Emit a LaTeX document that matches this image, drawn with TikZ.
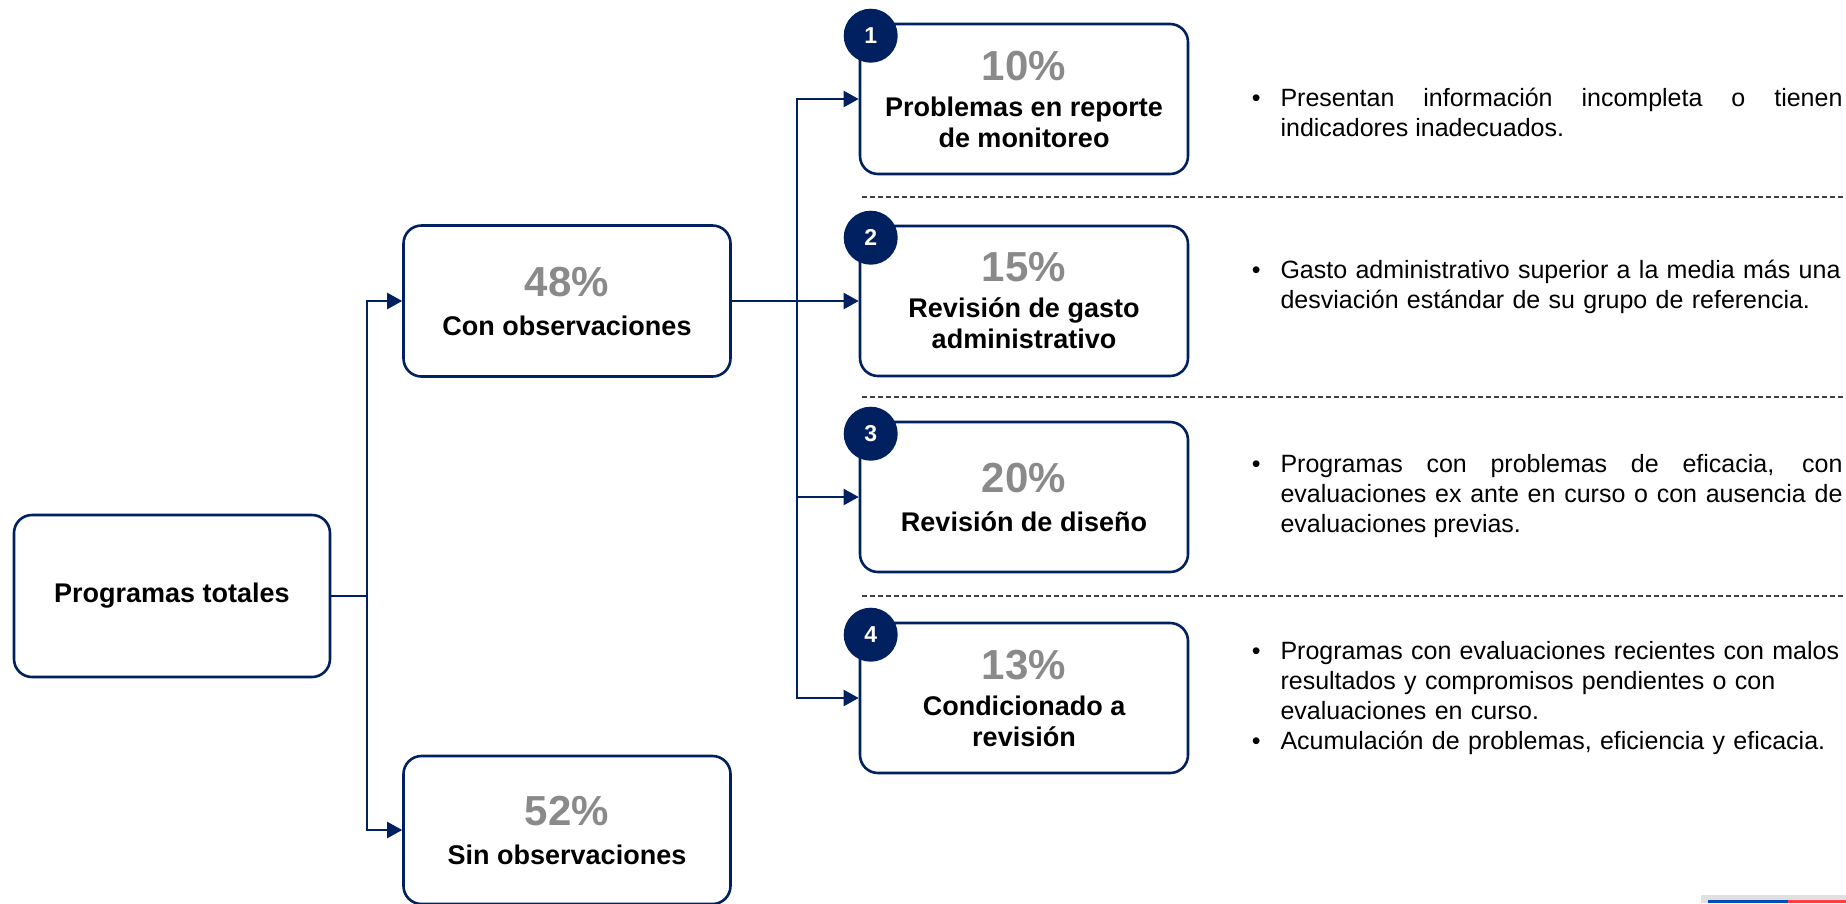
\documentclass[tikz,border=0pt]{standalone}
\usepackage{fontspec}
\setmainfont{Liberation Sans}
\usepackage{xcolor}
\usetikzlibrary{arrows.meta}
\definecolor{navy}{HTML}{002060}
\definecolor{pctgray}{HTML}{8A8A8A}
\newcommand{\pct}[1]{{\fontsize{42}{46}\selectfont\bfseries\color{pctgray}#1}}
\newcommand{\bul}{\leavevmode\llap{\textbullet\hspace{20pt}}}

\begin{document}
\begin{tikzpicture}[
  x=1pt, y=-1pt,
  box/.style={draw=navy, line width=2.6pt, rounded corners=18pt, fill=white,
    minimum width=328pt, minimum height=150pt, align=center,
    font=\fontsize{27}{31}\selectfont\bfseries},
  badge/.style={circle, fill=navy, minimum size=54pt, inner sep=0pt,
    text=white, font=\fontsize{23}{23}\selectfont\bfseries},
  link/.style={navy, line width=2.2pt},
  linkarr/.style={link, -{Triangle[length=15pt,width=16pt]}},
  note/.style={anchor=west, text width=562pt, font=\fontsize{25}{30}\selectfont},
  sep/.style={black!75, line width=1.2pt, dash pattern=on 5pt off 3pt},
]
\useasboundingbox (0,0) rectangle (1846,903);

% left side
\node[box, minimum width=316pt, minimum height=162pt] (tot) at (172,596) {Programas totales};
\node[box, minimum width=327pt, minimum height=151pt] (con) at (567,301) {\pct{48\%}\\[8pt] Con observaciones};
\node[box, minimum width=327pt, minimum height=148pt] (sin) at (567,830) {\pct{52\%}\\[8pt] Sin observaciones};

% right side
\node[box] (b1) at (1024,99) {\pct{10\%}\\[5pt] Problemas en reporte\\ de monitoreo};
\node[box] (b2) at (1024,301) {\pct{15\%}\\[5pt] Revisión de gasto\\ administrativo};
\node[box] (b3) at (1024,497) {\pct{20\%}\\[8pt] Revisión de diseño};
\node[box] (b4) at (1024,698) {\pct{13\%}\\[5pt] Condicionado a\\ revisión};

\foreach \i in {1,...,4}
  \node[badge] (n\i) at ([xshift=12pt,yshift=-13pt]b\i.north west) {\i};

% connectors
\coordinate (j1) at (367,596);
\coordinate (j2) at (797,301);
\draw[link] (tot.east) -- (j1);
\draw[linkarr] (j1) |- (con.west);
\draw[linkarr] (j1) |- (sin.west);
\draw[link] (con.east) -- (j2);
\foreach \i in {1,...,4}
  \draw[linkarr] (j2) |- (b\i.west);

% separators
\foreach \y in {197,397,596}
  \draw[sep] (862,\y) -- (1846,\y);

% notes
\node[note, align=justify] (t1) at (1277,112) {\bul Presentan información incompleta o tienen\linebreak indicadores inadecuados.};
\node[note, align=left] (t2) at (1277,287) {\bul Gasto administrativo superior a la media más una\\ desviación estándar de su grupo de referencia.};
\node[note, align=justify] (t3) at (1277,496) {\bul Programas con problemas de eficacia, con\linebreak evaluaciones ex ante en curso o con ausencia de\linebreak evaluaciones previas.};
\node[note, align=left] (t4) at (1277,698) {\bul Programas con evaluaciones recientes con malos\\ resultados y compromisos pendientes o con\\ evaluaciones en curso.\\ \bul Acumulación de problemas, eficiencia y eficacia.};

% footer bar
\fill[black!12] (1701,895) rectangle (1846,903);
\fill[blue!60!black!70!cyan] (1708,900) rectangle (1788,903);
\fill[red!75] (1788,900) rectangle (1846,903);
\end{tikzpicture}
\end{document}
